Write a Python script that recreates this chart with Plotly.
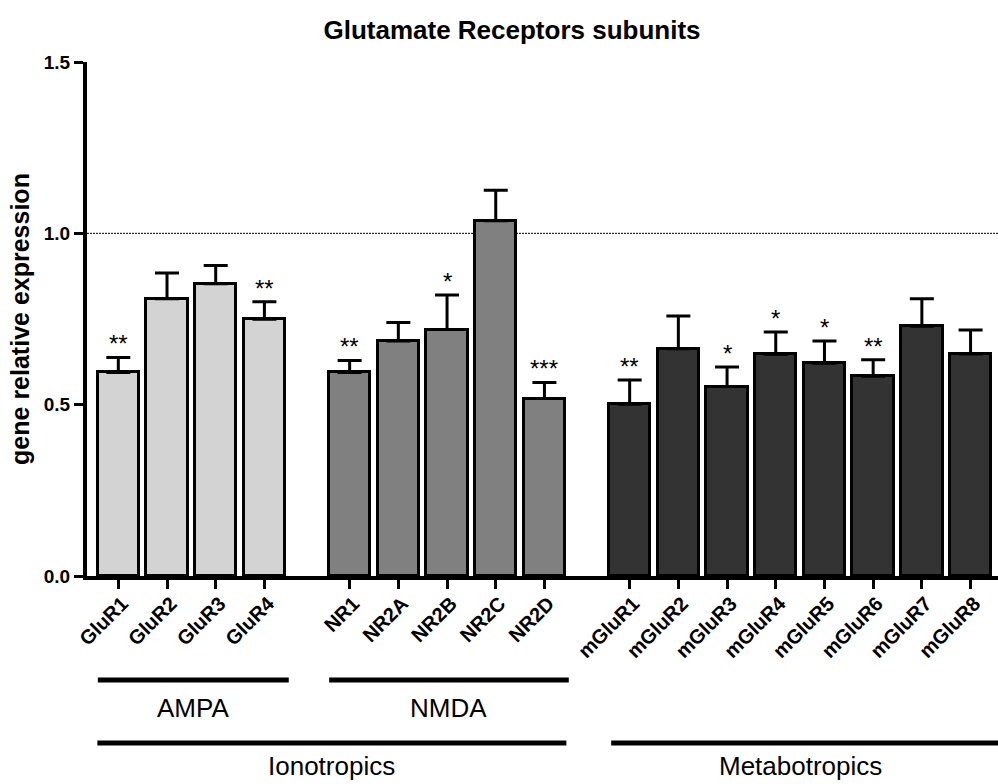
import plotly.graph_objects as go

# ---------------- data ----------------
ampa_names = ["GluR1", "GluR2", "GluR3", "GluR4"]
ampa_values = [0.594, 0.809, 0.853, 0.749]
ampa_sem = [0.044, 0.075, 0.053, 0.051]
ampa_stars = ["**", "", "", "**"]

nmda_names = ["NR1", "NR2A", "NR2B", "NR2C", "NR2D"]
nmda_values = [0.594, 0.686, 0.719, 1.037, 0.518]
nmda_sem = [0.035, 0.054, 0.101, 0.089, 0.047]
nmda_stars = ["**", "", "*", "", "***"]

mglu_names = ["mGluR1", "mGluR2", "mGluR3", "mGluR4", "mGluR5", "mGluR6", "mGluR7", "mGluR8"]
mglu_values = [0.501, 0.663, 0.553, 0.647, 0.621, 0.583, 0.729, 0.648]
mglu_sem = [0.071, 0.096, 0.057, 0.065, 0.065, 0.048, 0.080, 0.070]
mglu_stars = ["**", "", "*", "*", "*", "**", "", ""]

y_tick_values = [0.0, 0.5, 1.0, 1.5]
reference_level = 1.0

subgroup_labels = ["AMPA", "NMDA"]
group_labels = ["Ionotropics", "Metabotropics"]
title_text = "Glutamate Receptors subunits"
y_title = "gene relative expression"

# ---------------- layout constants ----------------
W, H = 998, 784
M_L, M_R, M_T, M_B = 87, 0, 62, 208
PLOT_W = W - M_L - M_R
PLOT_H = H - M_T - M_B
SLOT_PX = 48.7
GAP = 0.75
X_MIN = -0.643
X_MAX = X_MIN + PLOT_W / SLOT_PX
FONT = "Liberation Sans, Arial, Helvetica, sans-serif"

groups = [
    (ampa_names, ampa_values, ampa_sem, ampa_stars, "#d3d3d3"),
    (nmda_names, nmda_values, nmda_sem, nmda_stars, "#808080"),
    (mglu_names, mglu_values, mglu_sem, mglu_stars, "#333333"),
]

positions = []
offset = 0.0
for names, *_ in groups:
    positions.append([offset + i for i in range(len(names))])
    offset += len(names) + GAP


def xpaper(x):
    return (x - X_MIN) / (X_MAX - X_MIN)


def ypaper(py):
    # py: pixel row on the canvas
    return (M_T + PLOT_H - py) / PLOT_H


fig = go.Figure()
annotations = []
all_pos, all_names = [], []
for (names, vals, sem, stars, color), pos in zip(groups, positions):
    fig.add_trace(go.Bar(
        x=pos, y=vals, width=0.85,
        marker=dict(color=color, line=dict(color="black", width=3)),
        error_y=dict(type="data", symmetric=False, array=sem,
                     arrayminus=[0] * len(sem), color="black",
                     thickness=3, width=12),
        showlegend=False, hoverinfo="skip",
    ))
    for p, v, s, st in zip(pos, vals, sem, stars):
        if st:
            annotations.append(dict(
                x=p, y=v + s, xref="x", yref="y", text=st, showarrow=False,
                xanchor="center", yanchor="bottom", yshift=-2,
                font=dict(family=FONT, size=24, color="black")))
    all_pos += pos
    all_names += names

shapes = [dict(type="line", xref="paper", yref="y", x0=0, x1=1,
               y0=reference_level, y1=reference_level, layer="below",
               line=dict(color="black", width=1, dash="2px,1px"))]

SUB_Y = 680
GRP_Y = 743
SUB_TXT_Y = 708
GRP_TXT_Y = 766
LINE_W = 5

# subgroup lines (AMPA, NMDA)
for lbl, pos in zip(subgroup_labels, positions[:2]):
    x0, x1 = pos[0] - 0.42, pos[-1] + 0.5
    shapes.append(dict(type="line", xref="paper", yref="paper",
                       x0=xpaper(x0), x1=xpaper(x1), y0=ypaper(SUB_Y), y1=ypaper(SUB_Y),
                       line=dict(color="black", width=LINE_W)))
    annotations.append(dict(x=xpaper((x0 + x1) / 2), y=ypaper(SUB_TXT_Y), xref="paper",
                            yref="paper", text=lbl, showarrow=False,
                            xanchor="center", yanchor="middle",
                            font=dict(family=FONT, size=26, color="black")))

# group lines
iono_x0, iono_x1 = positions[0][0] - 0.43, positions[1][-1] + 0.45
meta_x0 = positions[2][0] - 0.38
shapes.append(dict(type="line", xref="paper", yref="paper",
                   x0=xpaper(iono_x0), x1=xpaper(iono_x1), y0=ypaper(GRP_Y), y1=ypaper(GRP_Y),
                   line=dict(color="black", width=LINE_W)))
shapes.append(dict(type="line", xref="paper", yref="paper",
                   x0=xpaper(meta_x0), x1=1.0, y0=ypaper(GRP_Y), y1=ypaper(GRP_Y),
                   line=dict(color="black", width=LINE_W)))
annotations.append(dict(x=xpaper((iono_x0 + iono_x1) / 2), y=ypaper(GRP_TXT_Y), xref="paper",
                        yref="paper", text=group_labels[0], showarrow=False,
                        xanchor="center", yanchor="middle",
                        font=dict(family=FONT, size=26, color="black")))
meta_mid = (positions[2][0] + positions[2][-1]) / 2
annotations.append(dict(x=xpaper(meta_mid), y=ypaper(GRP_TXT_Y), xref="paper",
                        yref="paper", text=group_labels[1], showarrow=False,
                        xanchor="center", yanchor="middle",
                        font=dict(family=FONT, size=26, color="black")))

fig.update_layout(
    width=W, height=H, autosize=False,
    margin=dict(l=M_L, r=M_R, t=M_T, b=M_B, pad=0),
    paper_bgcolor="white", plot_bgcolor="white",
    title=dict(text=title_text, x=512 / W, xanchor="center", xref="container",
               y=1 - 30 / H, yanchor="middle", yref="container",
               font=dict(family=FONT, size=26, color="black", weight="bold")),
    xaxis=dict(range=[X_MIN, X_MAX], tickvals=all_pos, ticktext=all_names,
               tickangle=-45, ticks="outside", ticklen=9, tickwidth=3, tickcolor="black",
               showline=True, linewidth=4, linecolor="black", showgrid=False,
               zeroline=False, ticklabelstandoff=-5, ticklabelshift=4,
               tickfont=dict(family=FONT, size=20, color="black", weight="bold")),
    yaxis=dict(range=[0, 1.5], tickvals=y_tick_values, tickformat=".1f",
               ticks="outside", ticklen=9, tickwidth=3, tickcolor="black",
               showline=True, linewidth=4, linecolor="black", showgrid=False,
               zeroline=False,
               tickfont=dict(family=FONT, size=19, color="black", weight="bold"),
               title=dict(text=y_title, standoff=8,
                          font=dict(family=FONT, size=25, color="black", weight="bold"))),
    shapes=shapes, annotations=annotations,
    bargap=0,
)

fig.write_html("out.html", config={"displayModeBar": False},
               post_script="document.body.style.margin='0px';document.body.style.padding='0px';")
